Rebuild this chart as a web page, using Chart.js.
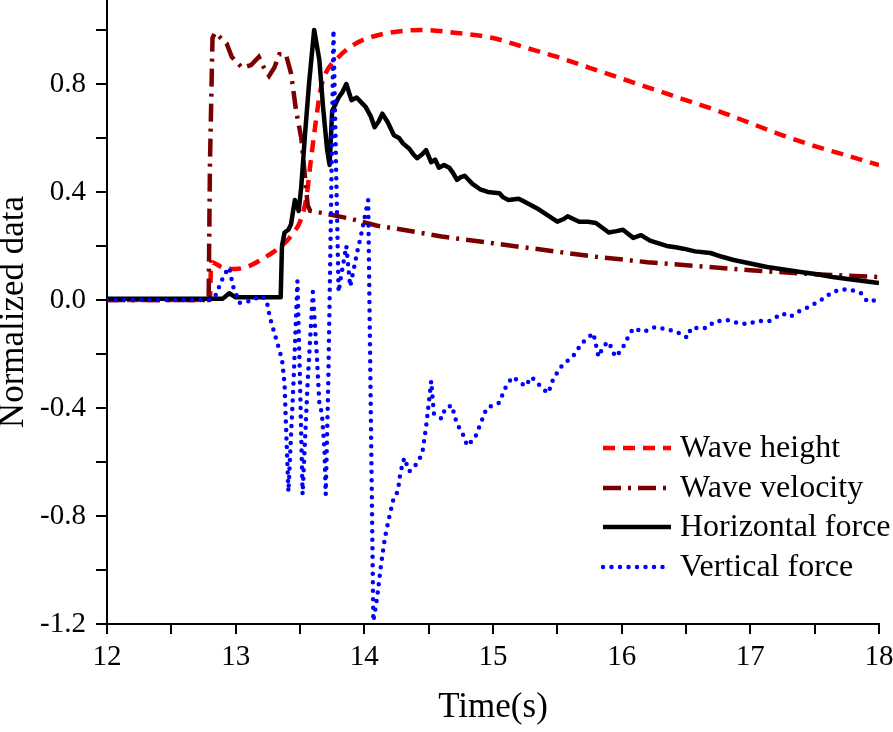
<!DOCTYPE html>
<html>
<head>
<meta charset="utf-8">
<script src="https://cdn.jsdelivr.net/npm/chart.js@4.4.0/dist/chart.umd.min.js"></script>
<style>
  html, body { margin: 0; padding: 0; background: #fff; }
  #chart { display: block; }
</style>
</head>
<body>
<canvas id="chart" width="893" height="732"></canvas>
<script>
// series names (legend order)
const seriesNames = ['Wave height', 'Wave velocity', 'Horizontal force', 'Vertical force'];

// axis ticks
const xTicks = [12, 12.5, 13, 13.5, 14, 14.5, 15, 15.5, 16, 16.5, 17, 17.5, 18];
const yTicks = [-1.2, -1.0, -0.8, -0.6, -0.4, -0.2, 0, 0.2, 0.4, 0.6, 0.8, 1.0];
const yTickLabels = ['-1.2', '', '-0.8', '', '-0.4', '', '0.0', '', '0.4', '', '0.8', ''];

// Wave height
const heightTime = [12.0, 12.8, 12.81, 12.9, 13.0, 13.1, 13.2, 13.3, 13.4, 13.45, 13.5, 13.55, 13.58, 13.62, 13.66, 13.7, 13.8, 13.9, 14.0, 14.2, 14.45, 14.7, 15.0, 15.25, 15.5, 15.75, 16.0, 16.25, 16.5, 16.75, 17.0, 17.25, 17.5, 17.75, 18.0];
const heightValue = [0, 0, 0.14, 0.12, 0.115, 0.125, 0.15, 0.18, 0.22, 0.25, 0.29, 0.38, 0.5, 0.65, 0.78, 0.84, 0.9, 0.94, 0.965, 0.99, 1.0, 0.99, 0.97, 0.935, 0.9, 0.86, 0.82, 0.78, 0.74, 0.70, 0.655, 0.61, 0.57, 0.535, 0.50];

// Wave velocity
const velocityTime = [12.0, 12.79, 12.8, 12.82, 12.84, 12.93, 12.97, 13.05, 13.12, 13.18, 13.22, 13.26, 13.3, 13.34, 13.39, 13.43, 13.47, 13.51, 13.54, 13.56, 13.58, 13.7, 13.9, 14.1, 14.3, 14.6, 15.0, 15.4, 15.8, 16.2, 16.6, 17.0, 17.5, 18.0];
const velocityValue = [0, 0, 0.5, 0.97, 0.99, 0.95, 0.9, 0.86, 0.87, 0.9, 0.86, 0.83, 0.86, 0.91, 0.91, 0.84, 0.7, 0.6, 0.45, 0.35, 0.33, 0.32, 0.3, 0.275, 0.26, 0.235, 0.21, 0.185, 0.16, 0.14, 0.125, 0.11, 0.095, 0.085];

// Horizontal force
const horizTime = [12.0, 12.9, 12.95, 13.0, 13.35, 13.36, 13.38, 13.41, 13.43, 13.46, 13.49, 13.51, 13.54, 13.57, 13.61, 13.65, 13.68, 13.71, 13.73, 13.75,
  13.8, 13.83, 13.86, 13.9, 13.94, 13.98, 14.01, 14.05, 14.08, 14.11, 14.14, 14.18, 14.23, 14.27, 14.3, 14.35, 14.38, 14.41, 14.45, 14.48,
  14.52, 14.55, 14.58, 14.62, 14.66, 14.69, 14.72, 14.75, 14.78, 14.84, 14.9, 14.96, 15.05, 15.08, 15.12, 15.2, 15.26, 15.34, 15.42, 15.5,
  15.55, 15.58, 15.67, 15.74, 15.8, 15.9, 15.96, 16.01, 16.09, 16.15, 16.22, 16.35, 16.42, 16.48, 16.57, 16.69, 16.78, 16.87, 17.0, 17.13,
  17.26, 17.39, 17.52, 17.64, 17.8, 18.0];
const horizValue = [0.005, 0.005, 0.025, 0.01, 0.01, 0.2, 0.25, 0.26, 0.28, 0.37, 0.33, 0.42, 0.62, 0.8, 1.0, 0.89, 0.71, 0.56, 0.5, 0.7,
  0.75, 0.77, 0.8, 0.74, 0.75, 0.73, 0.715, 0.68, 0.64, 0.66, 0.69, 0.66, 0.61, 0.6, 0.58, 0.56, 0.54, 0.525, 0.54, 0.555,
  0.51, 0.52, 0.49, 0.5, 0.49, 0.47, 0.445, 0.455, 0.46, 0.43, 0.41, 0.4, 0.395, 0.38, 0.37, 0.375, 0.36, 0.34, 0.315, 0.29,
  0.3, 0.31, 0.29, 0.29, 0.285, 0.25, 0.255, 0.26, 0.23, 0.24, 0.22, 0.2, 0.195, 0.19, 0.18, 0.174, 0.16, 0.148, 0.135, 0.122,
  0.113, 0.104, 0.095, 0.085, 0.075, 0.063];

// Vertical force
const vertTime = [12.0, 12.8, 12.85, 12.88, 12.92, 12.95, 12.98, 13.03, 13.1, 13.2,
  13.24, 13.26, 13.28, 13.3, 13.33, 13.36, 13.38, 13.39, 13.4, 13.41,
  13.45, 13.48, 13.5, 13.52, 13.56, 13.6, 13.63, 13.65, 13.67, 13.69,
  13.7, 13.72, 13.74, 13.76, 13.78, 13.8, 13.82, 13.86, 13.87, 13.89,
  13.92, 13.95, 13.97, 14.0, 14.03, 14.05, 14.07, 14.1, 14.13, 14.16,
  14.2, 14.23, 14.26, 14.28, 14.31, 14.35, 14.4, 14.45, 14.48, 14.52,
  14.54, 14.57, 14.6, 14.63, 14.68, 14.72, 14.76, 14.8, 14.86, 14.91,
  14.95, 15.0, 15.05, 15.09, 15.15, 15.2, 15.25, 15.3, 15.39, 15.43,
  15.47, 15.54, 15.62, 15.69, 15.78, 15.82, 15.86, 15.9, 15.95, 16.0,
  16.05, 16.09, 16.17, 16.26, 16.37, 16.45, 16.51, 16.54, 16.66, 16.72,
  16.82, 16.9, 16.98, 17.05, 17.15, 17.25, 17.31, 17.37, 17.46, 17.55,
  17.64, 17.72, 17.8, 17.86, 17.91, 17.98, 18.0];
const vertValue = [0, 0, 0.02, 0.06, 0.1, 0.12, 0.05, -0.01, -0.005, 0.015,
  0, -0.05, -0.09, -0.12, -0.17, -0.22, -0.31, -0.45, -0.58, -0.71,
  -0.3, 0.07, -0.3, -0.72, -0.3, 0.03, -0.2, -0.38, -0.42, -0.55,
  -0.72, -0.3, 0.3, 1.0, 0.5, 0.03, 0.09, 0.2, 0.15, 0.05,
  0.12, 0.19, 0.23, 0.3, 0.37, -0.4, -1.19, -1.1, -0.98, -0.88,
  -0.79, -0.73, -0.71, -0.64, -0.585, -0.635, -0.61, -0.57, -0.47, -0.3,
  -0.42, -0.43, -0.44, -0.4, -0.39, -0.46, -0.49, -0.54, -0.51, -0.45,
  -0.4, -0.39, -0.38, -0.33, -0.285, -0.3, -0.32, -0.285, -0.33, -0.345,
  -0.29, -0.24, -0.21, -0.16, -0.123, -0.21, -0.17, -0.155, -0.21, -0.185,
  -0.137, -0.105, -0.118, -0.1, -0.11, -0.123, -0.14, -0.104, -0.104, -0.08,
  -0.074, -0.085, -0.089, -0.078, -0.078, -0.05, -0.062, -0.044, -0.025, 0,
  0.03, 0.04, 0.035, 0.025, -0.006, 0, 0.01];

const serif = "'Liberation Serif', 'Times New Roman', serif";

function toPoints(ts, vs) {
  return ts.map((t, i) => ({ x: t, y: vs[i] }));
}

// legend drawn inside the plot, lower right
const insideLegend = {
  id: 'insideLegend',
  afterDatasetsDraw(chart) {
    const ctx = chart.ctx;
    const rowsY = [448, 488, 527, 567];
    ctx.save();
    chart.data.datasets.forEach((ds, i) => {
      const y = rowsY[i];
      ctx.beginPath();
      ctx.strokeStyle = ds.borderColor;
      ctx.lineWidth = ds.borderWidth;
      ctx.lineCap = ds.borderCapStyle || 'butt';
      ctx.setLineDash(ds.borderDash || []);
      ctx.moveTo(603, y);
      ctx.lineTo(671, y);
      ctx.stroke();
      ctx.setLineDash([]);
      ctx.fillStyle = '#000';
      ctx.font = '32px ' + serif;
      ctx.textAlign = 'left';
      ctx.textBaseline = 'middle';
      ctx.fillText(ds.label, 680, y + 1);
    });
    ctx.restore();
  }
};

const ctx = document.getElementById('chart');

const chart = new Chart(ctx, {
  type: 'line',
  data: {
    datasets: [
      {
        label: seriesNames[0],
        data: toPoints(heightTime, heightValue),
        borderColor: '#ff0000',
        borderWidth: 4.5,
        borderDash: [12, 8],
        cubicInterpolationMode: 'monotone',
        order: 3
      },
      {
        label: seriesNames[1],
        data: toPoints(velocityTime, velocityValue),
        borderColor: '#7a0000',
        borderWidth: 4.5,
        borderDash: [18, 7, 3, 7],
        tension: 0,
        order: 2
      },
      {
        label: seriesNames[2],
        data: toPoints(horizTime, horizValue),
        borderColor: '#000000',
        borderWidth: 4.5,
        borderJoinStyle: 'round',
        tension: 0,
        order: 1
      },
      {
        label: seriesNames[3],
        data: toPoints(vertTime, vertValue),
        borderColor: '#0000ff',
        borderWidth: 4.5,
        borderDash: [0, 8.5],
        borderCapStyle: 'round',
        tension: 0,
        order: 0
      }
    ]
  },
  options: {
    responsive: false,
    animation: false,
    devicePixelRatio: 1,
    elements: { point: { radius: 0 } },
    layout: { padding: { top: 0, right: 14, bottom: 0, left: 0 } },
    plugins: {
      legend: { display: false },
      tooltip: { enabled: false }
    },
    scales: {
      x: {
        type: 'linear',
        min: 12,
        max: 18,
        afterBuildTicks: (scale) => { scale.ticks = xTicks.map(v => ({ value: v })); },
        afterFit: (scale) => {
          scale.height = 108;
          scale.paddingLeft = 0;
          scale.paddingRight = 0;
        },
        ticks: {
          autoSkip: false,
          maxRotation: 0,
          padding: 6,
          color: '#000',
          font: { family: serif, size: 29 },
          callback: (v) => Number.isInteger(v) ? String(v) : ''
        },
        grid: { drawOnChartArea: false, drawTicks: true, tickLength: 10, color: '#000', lineWidth: 2 },
        border: { display: true, color: '#000', width: 2 },
        title: {
          display: true,
          text: 'Time(s)',
          color: '#000',
          font: { family: serif, size: 35 },
          padding: { top: 0, bottom: 3 }
        }
      },
      y: {
        type: 'linear',
        min: -1.2,
        max: 1.111,
        afterBuildTicks: (scale) => { scale.ticks = yTicks.map(v => ({ value: v })); },
        afterFit: (scale) => {
          scale.width = 107;
          scale.paddingTop = 0;
          scale.paddingBottom = 0;
        },
        ticks: {
          autoSkip: false,
          padding: 10,
          color: '#000',
          font: { family: serif, size: 29 },
          callback: (v, i) => yTickLabels[i]
        },
        grid: { drawOnChartArea: false, drawTicks: true, tickLength: 11, color: '#000', lineWidth: 2 },
        border: { display: true, color: '#000', width: 2 },
        title: {
          display: true,
          text: 'Normalized data',
          color: '#000',
          font: { family: serif, size: 35, lineHeight: 0.8 },
          padding: { top: 0, bottom: 0 }
        }
      }
    }
  },
  plugins: [insideLegend]
});
</script>
</body>
</html>
